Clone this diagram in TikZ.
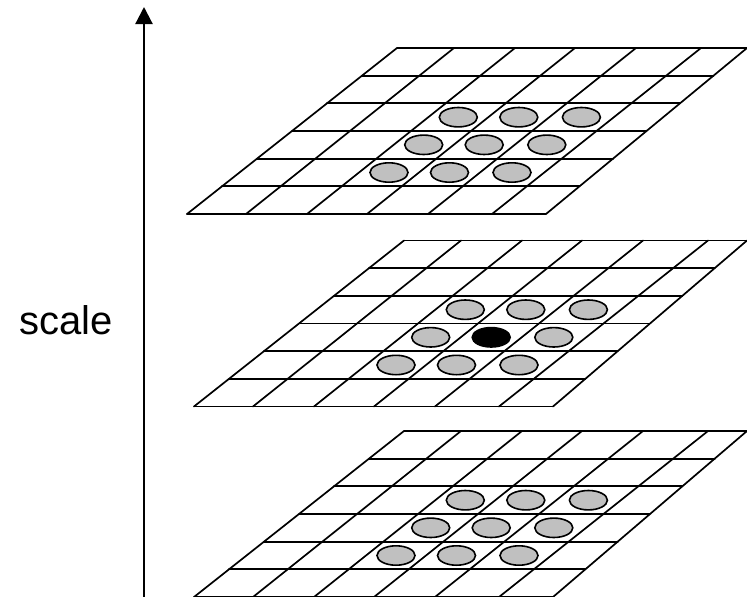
\documentclass[tikz,border=0pt]{standalone}
\usepackage{fontspec}
\setmainfont{Liberation Sans}
\usetikzlibrary{arrows.meta}
\definecolor{cellgray}{RGB}{192,192,192}
\tikzset{
  gridline/.style={line width=1.7pt, black, line cap=round},
  graydot/.style={draw=black, line width=1.6pt, fill=cellgray},
  blackdot/.style={draw=black, line width=1.6pt, fill=black},
  axisline/.style={line width=2.2pt, -{Triangle[length=17pt,width=17pt]}},
  label/.style={font=\fontsize{40}{48}\selectfont, inner sep=0pt}
}
\newcommand{\layergrid}[1]{%
  \foreach \b/\t in {187/397,246/454,307/515,367/575,428/636,492/701,546/#1}
    \draw[gridline] (\b,214) -- (\t,48);
  \foreach \k in {0,...,6}
    \draw[gridline] ({187+35*\k},{214-166*\k/6}) -- ({546+(#1-546)*\k/6},{214-166*\k/6});
}
\newcommand{\dotsnine}{%
  \foreach \cx/\cy in {389/172.5,449.5/172.5,512/172.5,423.7/144.8,484.2/144.8,546.8/144.8,458.3/117.2,518.8/117.2,581.4/117.2}
    \draw[graydot] (\cx,\cy) ellipse [x radius=19pt, y radius=9.7pt];
}
\begin{document}
\begin{tikzpicture}[x=1pt,y=-1pt]
\useasboundingbox (0,0) rectangle (747,597);
\begin{scope}
\clip (0,0) rectangle (747,597);
% top layer
\begin{scope}
  \layergrid{747}
  \dotsnine
\end{scope}
% middle layer
\begin{scope}[shift={(7,192.5)}]
  \layergrid{740}
  \foreach \cx/\cy in {389/172.5,449.5/172.5,512/172.5,423.7/144.8,546.8/144.8,458.3/117.2,518.8/117.2,581.4/117.2}
    \draw[graydot] (\cx,\cy) ellipse [x radius=19pt, y radius=9.7pt];
  \draw[blackdot] (484.2,144.8) ellipse [x radius=19pt, y radius=9.7pt];
\end{scope}
% bottom layer
\begin{scope}[shift={(7,383)}]
  \layergrid{740}
  \dotsnine
\end{scope}
\end{scope}
% scale axis
\coordinate (axisbottom) at (144,600);
\coordinate (axistop) at (144,7);
\draw[axisline] (axisbottom) -- (axistop);
\node[label, anchor=base] (scalelabel) at (66,334) {scale};
\end{tikzpicture}
\end{document}
